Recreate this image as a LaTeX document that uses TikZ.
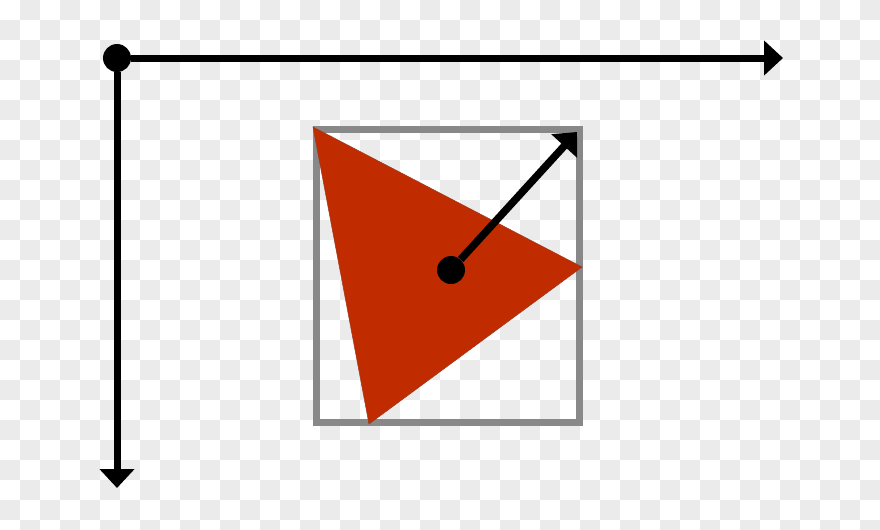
\documentclass[tikz,border=0pt]{standalone}
\usepackage{tikz}
\usetikzlibrary{positioning,arrows.meta,calc}
\definecolor{checkgray}{HTML}{EBEBEB}
\definecolor{boxgray}{HTML}{888888}
\definecolor{trired}{HTML}{C12B00}
\definecolor{triedge}{HTML}{9A3A20}

\tikzset{
  axis/.style={line width=0.14cm, -{Triangle[length=0.38cm, width=0.68cm]}},
  dot/.style={circle, fill=black, inner sep=0pt, minimum size=0.56cm}
}

\begin{document}
\begin{tikzpicture}[x=0.02cm, y=-0.02cm]
  \useasboundingbox (0,0) rectangle (880,529);
  % background checker
  \begin{scope}
    \clip (0,0) rectangle (880,529);
    \fill[white] (0,0) rectangle (880,529);
    \foreach \j in {0,2,...,26}
      \foreach \i in {1,3,...,43}
        \fill[checkgray] (20*\i,20*\j) rectangle +(20,20);
    \foreach \j in {1,3,...,25}
      \foreach \i in {0,2,...,42}
        \fill[checkgray] (20*\i,20*\j) rectangle +(20,20);
  \end{scope}

  % axes
  \node[dot] (origin) at (117,58) {};
  \coordinate (xend) at (783,58);
  \coordinate (yend) at (117,488);
  \draw[axis] (origin) -- (xend);
  \draw[axis] (origin) -- (yend);

  % bounding box and triangle
  \draw[boxgray, line width=0.14cm] (316.5,129) rectangle (579.5,422);
  \fill[trired, draw=triedge, line width=0.3pt] (313,127) -- (582,267) -- (369,424) -- cycle;

  % center and direction
  \node[dot] (center) at (451,270) {};
  \coordinate (dirend) at (577,132);
  \draw[axis, line width=0.15cm] (center) -- (dirend);
\end{tikzpicture}
\end{document}
